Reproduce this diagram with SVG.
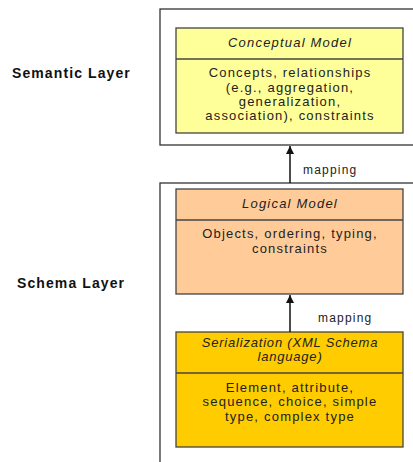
<svg xmlns="http://www.w3.org/2000/svg" width="413" height="462" viewBox="0 0 413 462">
<style>
.layer{fill:#fff;stroke:#333;stroke-width:1.3}
.box{stroke:#444;stroke-width:1.3}
.t{font-family:"Liberation Sans",Arial,sans-serif;font-size:13px;fill:#222;text-anchor:middle;letter-spacing:1.2px}
.ti{font-style:italic}
.tn{letter-spacing:0.8px}
.lbl{font-family:"Liberation Sans",Arial,sans-serif;font-size:14px;font-weight:bold;fill:#111;letter-spacing:1.1px}
.map{font-family:"Liberation Sans",Arial,sans-serif;font-size:12px;fill:#222;letter-spacing:1.2px}
.conn{stroke:#111;stroke-width:1.5;fill:none}
</style>
<defs>
<marker id="ah" viewBox="0 0 10 10" refX="10" refY="5" markerWidth="8" markerHeight="8" markerUnits="userSpaceOnUse" orient="auto">
<path d="M0,0 L10,5 L0,10 z" fill="#111"/>
</marker>
</defs>
<g id="semantic-layer">
<rect class="layer" x="160" y="9" width="260" height="136"/>
<text class="lbl" x="12" y="78">Semantic Layer</text>
</g>
<g id="schema-layer">
<rect class="layer" x="160" y="183" width="260" height="290"/>
<text class="lbl" x="17" y="288">Schema Layer</text>
</g>
<g id="conceptual-model">
<rect class="box" x="176" y="28" width="227" height="105" fill="#ffff99"/>
<line class="box" x1="176" y1="59" x2="403" y2="59"/>
<text class="t ti" x="290" y="47">Conceptual Model</text>
<text class="t" x="290" y="77">Concepts, relationships</text>
<text class="t" x="290" y="91.5">(e.g., aggregation,</text>
<text class="t" x="290" y="105.5">generalization,</text>
<text class="t" x="290" y="120">association), constraints</text>
</g>
<g id="logical-model">
<rect class="box" x="176" y="189" width="227" height="105" fill="#ffcc99"/>
<line class="box" x1="176" y1="220" x2="403" y2="220"/>
<text class="t ti" x="290" y="208">Logical Model</text>
<text class="t" x="290" y="238">Objects, ordering, typing,</text>
<text class="t" x="290" y="253">constraints</text>
</g>
<g id="serialization">
<rect class="box" x="176" y="332" width="227" height="115" fill="#ffcc00"/>
<line class="box" x1="176" y1="373" x2="403" y2="373"/>
<text class="t ti tn" x="290" y="347">Serialization (XML Schema</text>
<text class="t ti tn" x="290" y="361">language)</text>
<text class="t" x="290" y="392">Element, attribute,</text>
<text class="t" x="290" y="406">sequence, choice, simple</text>
<text class="t" x="290" y="421">type, complex type</text>
</g>
<g id="connectors">
<line class="conn" x1="290" y1="183" x2="290" y2="146" marker-end="url(#ah)"/>
<text class="map" x="303" y="174">mapping</text>
<line class="conn" x1="290" y1="332" x2="290" y2="295" marker-end="url(#ah)"/>
<text class="map" x="318" y="322">mapping</text>
</g>
</svg>
